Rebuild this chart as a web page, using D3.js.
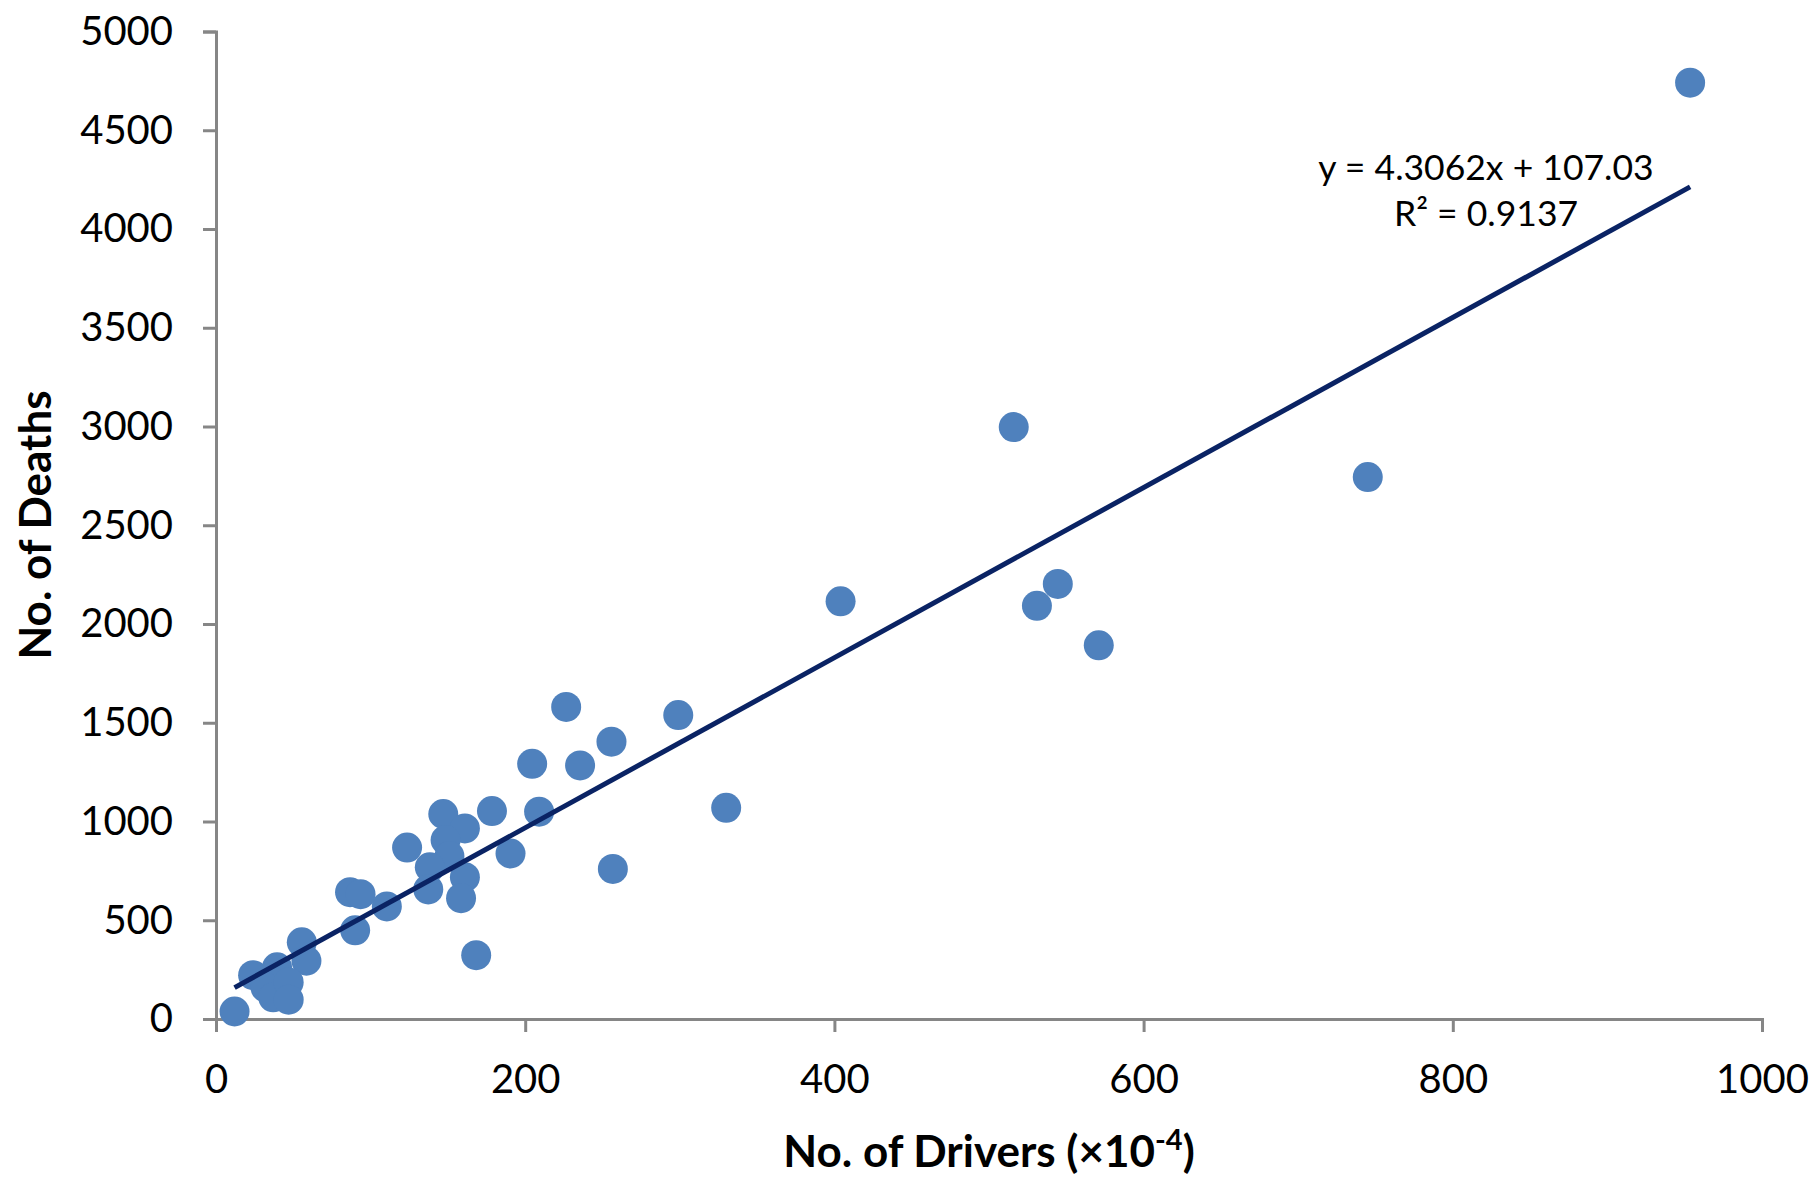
<!DOCTYPE html>
<html><head><meta charset="utf-8">
<script src="https://cdn.jsdelivr.net/npm/d3@7"></script>
<style>
html,body{margin:0;padding:0;background:#fff;}
svg{display:block;}
text{font-family:Lato,"Open Sans",sans-serif;fill:#000;}
</style></head>
<body>
<script>
// Data: No. of Drivers (x10^-4) vs No. of Deaths
const drivers = [953.5, 516, 745, 544.5, 531, 571, 404, 299, 226.5, 255.8, 235.5, 204.5, 209, 330, 178.5, 256.7, 190.5, 147, 161, 148.5, 151, 123.6, 138.3, 137.3, 161, 158.5, 168.3, 110.5, 86.7, 93.5, 90, 55.5, 58.5, 24, 39.5, 32, 37, 47, 47, 12];
const deaths  = [4741, 2997, 2744, 2203, 2092, 1892, 2115, 1539, 1580, 1404, 1284, 1292, 1050, 1069, 1053, 760, 838, 1038, 965, 906, 825, 868, 768, 656, 718, 612, 323, 570, 642, 632, 449, 388, 295, 222, 262, 160, 110, 185, 98, 38];
const xTicks = [0, 200, 400, 600, 800, 1000];
const yTicks = [0, 500, 1000, 1500, 2000, 2500, 3000, 3500, 4000, 4500, 5000];
const slope = 4.3062, intercept = 107.03;
const eqLabel = "y = 4.3062x + 107.03";
const r2Label = "R² = 0.9137";

const W = 1819, H = 1179;
const svg = d3.select("body").append("svg").attr("width", W).attr("height", H);

const x = d3.scaleLinear().domain([0, 1000]).range([216, 1762]);
const y = d3.scaleLinear().domain([0, 5000]).range([1019, 31.5]);

const axisColor = "#868686";

// Y axis
const gy = svg.append("g").attr("transform", `translate(${x(0)},0)`)
  .call(d3.axisLeft(y).tickValues(yTicks).tickSize(13).tickPadding(30).tickFormat(d3.format("d")));
gy.select(".domain").attr("stroke", axisColor).attr("stroke-width", 3);
gy.selectAll(".tick line").attr("stroke", axisColor).attr("stroke-width", 3);
gy.selectAll(".tick text").attr("font-size", 40).attr("font-family", "Lato");

// X axis
const gx = svg.append("g").attr("transform", `translate(0,${y(0)})`)
  .call(d3.axisBottom(x).tickValues(xTicks).tickSize(13).tickPadding(33).tickFormat(d3.format("d")));
gx.select(".domain").attr("stroke", axisColor).attr("stroke-width", 3);
gx.selectAll(".tick line").attr("stroke", axisColor).attr("stroke-width", 3);
gx.selectAll(".tick text").attr("font-size", 40).attr("font-family", "Lato");

// Points
const pts = drivers.map((d, i) => ({x: d, y: deaths[i]}));
svg.append("g").selectAll("circle").data(pts).join("circle")
  .attr("cx", d => x(d.x)).attr("cy", d => y(d.y)).attr("r", 15)
  .attr("fill", "#4F81BD");

// Trendline
const xmin = d3.min(drivers), xmax = d3.max(drivers);
svg.append("line")
  .attr("x1", x(xmin)).attr("y1", y(slope * xmin + intercept))
  .attr("x2", x(xmax)).attr("y2", y(slope * xmax + intercept))
  .attr("stroke", "#0A2364").attr("stroke-width", 5);

// Equation
svg.append("text").attr("x", 1486).attr("y", 180).attr("text-anchor", "middle")
  .attr("font-size", 35.5).text(eqLabel);
svg.append("text").attr("x", 1486).attr("y", 226).attr("text-anchor", "middle")
  .attr("font-size", 35.5).text(r2Label);

// Axis titles
const xt = svg.append("text").attr("x", 989).attr("y", 1167).attr("text-anchor", "middle")
  .attr("font-size", 44).attr("font-weight", "bold");
xt.append("tspan").text("No. of Drivers (×10");
xt.append("tspan").attr("font-size", 29).attr("dy", -17).text("-4");
xt.append("tspan").attr("dy", 17).text(")");

svg.append("text").attr("transform", "translate(51,525) rotate(-90)")
  .attr("text-anchor", "middle").attr("font-size", 44).attr("font-weight", "bold")
  .text("No. of Deaths");
</script>
</body></html>
